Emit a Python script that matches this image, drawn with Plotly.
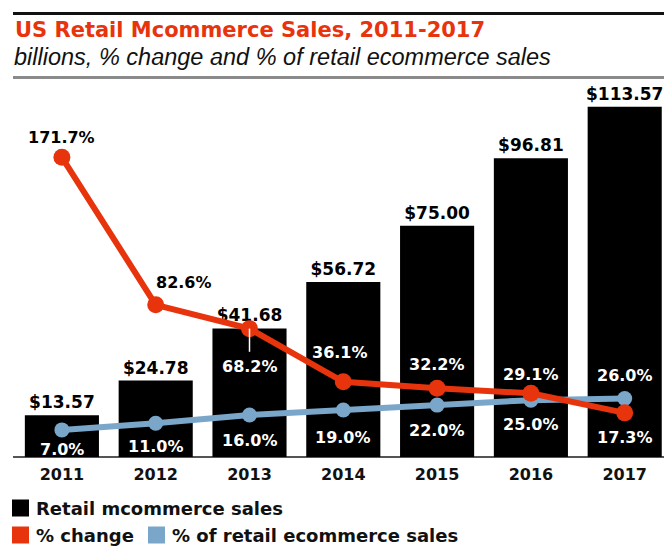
import plotly.graph_objects as go

# ---- data ----
years = ["2011", "2012", "2013", "2014", "2015", "2016", "2017"]
sales = [13.57, 24.78, 41.68, 56.72, 75.00, 96.81, 113.57]          # $ billions
pct_change = [171.7, 82.6, 68.2, 36.1, 32.2, 29.1, 17.3]            # % change
pct_of_ecom = [7.0, 11.0, 16.0, 19.0, 22.0, 25.0, 26.0]             # % of retail ecommerce

# ---- styling ----
RED = "#e8340c"
BLUE = "#79a6c9"
BLACK = "#000000"
BOLD = "DejaVu Sans"
W, H = 664, 559
M_L, M_R, M_T, M_B = 15, 0, 90, 102
PW, PH = W - M_L - M_R, H - M_T - M_B
STEP = 93.8  # pixels per category

# label offsets (px) and colours for the two line series
chg_dx = [0, 28, 0, -3, 0, 0, 0]
chg_dy = [20, 22, -38, 29, 24, 19, -25]
chg_col = ["black", "black", "white", "white", "white", "white", "white"]
ecom_dy = [-20, -23, -25, -27, -25, -24, 23]

x = list(range(len(years)))


def px_x(p):
    return (p - M_L) / PW


def px_y(p):
    return (H - M_B - p) / PH


fig = go.Figure()

fig.add_trace(go.Bar(
    x=x, y=sales, width=0.79,
    marker=dict(color=BLACK, line=dict(width=0)),
    text=[f"${v:.2f}" for v in sales],
    textposition="outside", constraintext="none", cliponaxis=False,
    textfont=dict(family=BOLD, size=17, color="black", weight="bold"),
    hoverinfo="skip",
))

fig.add_trace(go.Scatter(
    x=x, y=pct_of_ecom, yaxis="y2", mode="lines+markers",
    line=dict(color=BLUE, width=6), marker=dict(color=BLUE, size=15),
    cliponaxis=False, hoverinfo="skip",
))

fig.add_trace(go.Scatter(
    x=x, y=pct_change, yaxis="y2", mode="lines+markers",
    line=dict(color=RED, width=6), marker=dict(color=RED, size=17),
    cliponaxis=False, hoverinfo="skip",
))

annotations = []
for i, v in enumerate(pct_change):
    annotations.append(dict(
        x=x[i], y=v, xref="x", yref="y2", text=f"{v:.1f}%", showarrow=False,
        xshift=chg_dx[i], yshift=chg_dy[i],
        font=dict(family=BOLD, size=16, color=chg_col[i], weight="bold"),
    ))
for i, v in enumerate(pct_of_ecom):
    annotations.append(dict(
        x=x[i], y=v, xref="x", yref="y2", text=f"{v:.1f}%", showarrow=False,
        yshift=ecom_dy[i],
        font=dict(family=BOLD, size=16, color="white", weight="bold"),
    ))

# title and subtitle
annotations.append(dict(
    x=px_x(13), y=px_y(30), xref="paper", yref="paper", xanchor="left", yanchor="middle",
    text="US Retail Mcommerce Sales, 2011-2017", showarrow=False,
    font=dict(family=BOLD, size=21, color=RED, weight="bold"),
))
annotations.append(dict(
    x=px_x(12), y=px_y(57), xref="paper", yref="paper", xanchor="left", yanchor="middle",
    text="<i>billions, % change and % of retail ecommerce sales</i>", showarrow=False,
    font=dict(family="Liberation Sans", size=23.5, color="#111111"),
))

# legend entries
legend_items = [
    (12, 508, BLACK, "Retail mcommerce sales"),
    (12, 535, RED, "% change"),
    (148, 535, BLUE, "% of retail ecommerce sales"),
]
shapes = []
for lx, ly, col, label in legend_items:
    shapes.append(dict(
        type="rect", xref="paper", yref="paper",
        x0=px_x(lx), x1=px_x(lx + 17), y0=px_y(ly - 8.5), y1=px_y(ly + 8.5),
        fillcolor=col, line=dict(width=0),
    ))
    annotations.append(dict(
        x=px_x(lx + 22), y=px_y(ly), xref="paper", yref="paper",
        xanchor="left", yanchor="middle", text=label, showarrow=False,
        font=dict(family=BOLD, size=18, color="#111111", weight="bold"),
    ))

# header rules
shapes.append(dict(type="line", xref="paper", yref="paper",
                   x0=px_x(13), x1=px_x(664), y0=px_y(13.5), y1=px_y(13.5),
                   line=dict(color="#111111", width=3)))
shapes.append(dict(type="line", xref="paper", yref="paper",
                   x0=px_x(13), x1=px_x(664), y0=px_y(77.5), y1=px_y(77.5),
                   line=dict(color="#8a8a8a", width=3)))
# leader from the 2013 change point to its label
shapes.append(dict(type="line", xref="x", yref="y2",
                   x0=x[2], x1=x[2], y0=pct_change[2], y1=pct_change[2] - 14,
                   line=dict(color="white", width=1.5)))

fig.update_layout(
    width=W, height=H,
    margin=dict(l=M_L, r=M_R, t=M_T, b=M_B),
    paper_bgcolor="white", plot_bgcolor="white",
    showlegend=False,
    xaxis=dict(
        range=[-0.5, -0.5 + PW / STEP], tickmode="array", tickvals=x, ticktext=years,
        showgrid=False, zeroline=False, showline=False, ticks="",
        ticklabelstandoff=6,
        tickfont=dict(family=BOLD, size=16, color="#111111", weight="bold"),
    ),
    yaxis=dict(range=[0, PH / 3.085], visible=False, showgrid=False, zeroline=False),
    yaxis2=dict(range=[-(H - M_B - 441.5) / 1.655, (441.5 - M_T) / 1.655],
                overlaying="y", visible=False, showgrid=False, zeroline=False),
    annotations=annotations,
    shapes=shapes + [dict(type="line", xref="paper", yref="paper",
                          x0=px_x(13), x1=1, y0=0, y1=0,
                          line=dict(color="#555555", width=2), layer="below")],
)

fig.write_html("out.html")
